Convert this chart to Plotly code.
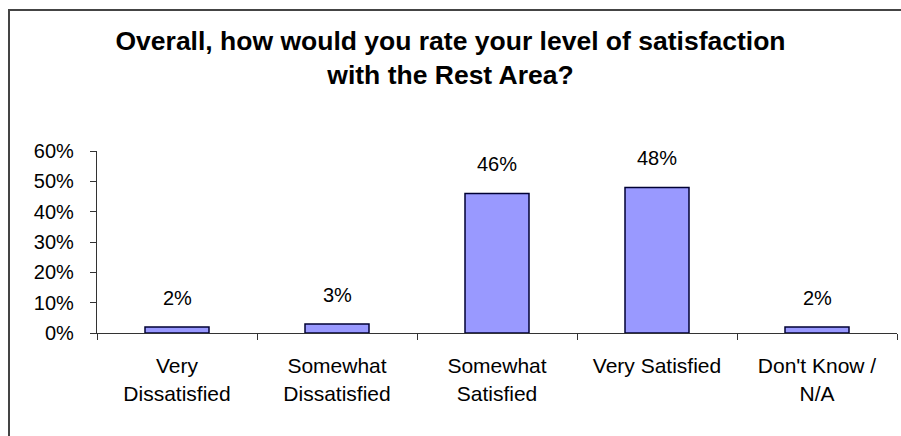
import plotly.graph_objects as go

categories = ["Very<br>Dissatisfied", "Somewhat<br>Dissatisfied", "Somewhat<br>Satisfied",
              "Very Satisfied", "Don't Know /<br>N/A"]
values = [2, 3, 46, 48, 2]
value_labels = ["2%", "3%", "46%", "48%", "2%"]
y_ticks = [0, 10, 20, 30, 40, 50, 60]
y_tick_labels = ["0%", "10%", "20%", "30%", "40%", "50%", "60%"]

FONT = "Liberation Sans, Arial"
PLOT_TOP, PLOT_BOT = 151, 333
PLOT_H = PLOT_BOT - PLOT_TOP
PLOT_L, PLOT_R = 97, 897
PLOT_W = PLOT_R - PLOT_L

fig = go.Figure()
fig.add_trace(go.Bar(
    x=categories, y=values,
    marker=dict(color="#9999FF", line=dict(color="#000033", width=1.5)),
    width=0.4,
))
for c, v, t in zip(categories, values, value_labels):
    fig.add_annotation(x=c, y=v, text=t, showarrow=False, yanchor="bottom", yshift=16,
                       font=dict(family=FONT, size=20, color="#000"))

# outer chart border (left and top edges visible)
fig.add_shape(type="rect", xref="paper", yref="paper",
              x0=(9 - PLOT_L) / PLOT_W, x1=(905 - PLOT_L) / PLOT_W,
              y0=(PLOT_BOT - 10) / PLOT_H, y1=(PLOT_BOT - 440) / PLOT_H,
              line=dict(color="#444", width=2), fillcolor="rgba(0,0,0,0)", layer="below")

fig.update_layout(
    width=901, height=436,
    margin=dict(l=PLOT_L, r=901 - PLOT_R, t=PLOT_TOP, b=436 - PLOT_BOT, autoexpand=False),
    paper_bgcolor="white", plot_bgcolor="white",
    showlegend=False,
    title=dict(text="Overall, how would you rate your level of satisfaction<br>with the Rest Area?",
               x=0.5, xanchor="center", y=1 - 50 / 436, yanchor="top",
               font=dict(family=FONT, size=26.5, color="#000", weight="bold")),
)
fig.update_xaxes(showline=True, linecolor="#333", linewidth=1.2, ticks="outside", ticklen=6,
                 tickcolor="#333", tickson="boundaries", showgrid=False, automargin=False,
                 ticklabelstandoff=14,
                 tickfont=dict(family=FONT, size=21, color="#000"))
fig.update_yaxes(range=[0, 60], tickvals=y_ticks, ticktext=y_tick_labels, showline=True,
                 linecolor="#333", linewidth=1.2, ticks="outside", ticklen=6, tickcolor="#333",
                 showgrid=False, zeroline=False, automargin=False, ticklabelstandoff=12,
                 tickfont=dict(family=FONT, size=20, color="#000"))

fig.write_html("out.html", config={"displayModeBar": False},
               post_script="document.body.style.margin='0';document.body.style.overflow='hidden';")
